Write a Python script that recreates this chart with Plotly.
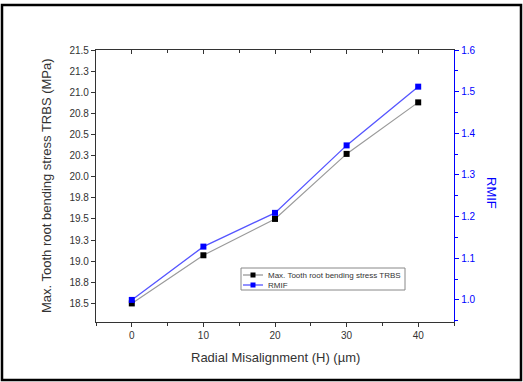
import plotly.graph_objects as go

misalignment = [0, 10, 20, 30, 40]
trbs = [18.5, 19.07, 19.5, 20.27, 20.88]
rmif = [1.0, 1.128, 1.209, 1.371, 1.512]

left_tickvals = [18.5, 18.75, 19.0, 19.25, 19.5, 19.75, 20.0, 20.25, 20.5, 20.75, 21.0, 21.25, 21.5]
left_ticktext = ["18.5", "18.8", "19.0", "19.3", "19.5", "19.8", "20.0", "20.3", "20.5", "20.8", "21.0", "21.3", "21.5"]
right_tickvals = [1.0, 1.1, 1.2, 1.3, 1.4, 1.5, 1.6]
right_ticktext = ["1.0", "1.1", "1.2", "1.3", "1.4", "1.5", "1.6"]
x_tickvals = [0, 10, 20, 30, 40]
legend_names = ["Max. Tooth root bending stress TRBS", "RMIF"]

FONT = "Liberation Sans, Arial, sans-serif"
BLUE = "#0000ff"
TRBS_LINE = "#9a9a9a"
RMIF_LINE = "#5555ff"

# plot area in pixels
L, R, T, B = 96, 454, 50, 322
PW, PH = R - L, B - T


def px(x):
    return (x - L) / PW


def py(y):
    return (B - y) / PH


fig = go.Figure()
fig.add_trace(go.Scatter(
    x=misalignment, y=trbs, mode="lines+markers", name=legend_names[0],
    line=dict(color=TRBS_LINE, width=1.2),
    marker=dict(symbol="square", size=6, color="#000000"),
    xaxis="x", yaxis="y", showlegend=False,
))
fig.add_trace(go.Scatter(
    x=misalignment, y=rmif, mode="lines+markers", name=legend_names[1],
    line=dict(color=RMIF_LINE, width=1.3),
    marker=dict(symbol="square", size=6, color=BLUE),
    xaxis="x", yaxis="y2", showlegend=False,
))
fig.add_trace(go.Scatter(x=[None], y=[None], xaxis="x2", yaxis="y",
                         showlegend=False, hoverinfo="skip"))

fig.update_layout(
    width=523, height=382,
    margin=dict(l=L, r=523 - R, t=T, b=382 - B),
    paper_bgcolor="white", plot_bgcolor="white",
    font=dict(family=FONT, size=10, color="#333333"),
    showlegend=False,
    xaxis=dict(
        range=[-5, 45], tickvals=x_tickvals, ticks="outside", ticklen=4,
        tickcolor="#333333", showline=True, linecolor="#333333", linewidth=1.3,
        showgrid=False, zeroline=False,
        minor=dict(dtick=5, tick0=0, ticks="outside", ticklen=3, tickcolor="#333333"),
        tickfont=dict(size=10, color="#333333"),
    ),
    xaxis2=dict(
        range=[-5, 45], overlaying="x", side="top", matches="x",
        tickvals=x_tickvals, ticks="inside", ticklen=4, tickcolor="#333333",
        showticklabels=False, showline=True, linecolor="#333333", linewidth=1.3,
        showgrid=False, zeroline=False,
        minor=dict(dtick=5, tick0=0, ticks="inside", ticklen=3, tickcolor="#333333"),
    ),
    yaxis=dict(
        range=[18.28, 21.5], tickvals=left_tickvals, ticktext=left_ticktext,
        ticks="outside", ticklen=4, tickcolor="#333333",
        showline=True, linecolor="#333333", linewidth=1.3,
        showgrid=False, zeroline=False,
        tickfont=dict(size=10, color="#333333"),
    ),
    yaxis2=dict(
        range=[0.947, 1.6], overlaying="y", side="right",
        tickvals=right_tickvals, ticktext=right_ticktext,
        ticks="outside", ticklen=4, tickcolor=BLUE,
        showline=True, linecolor=BLUE, linewidth=1.3,
        showgrid=False, zeroline=False,
        minor=dict(dtick=0.05, tick0=0, ticks="outside", ticklen=3, tickcolor=BLUE),
        tickfont=dict(size=10, color=BLUE),
    ),
)

# axis titles
fig.add_annotation(
    text="Max. Tooth root bending stress TRBS (MPa)", textangle=-90,
    xref="paper", yref="paper", x=px(46), y=0.5, xanchor="center", yanchor="middle",
    showarrow=False, font=dict(size=13, color="#333333", family=FONT),
)
fig.add_annotation(
    text="RMIF", textangle=90,
    xref="paper", yref="paper", x=px(492), y=py(193),
    xanchor="center", yanchor="middle",
    showarrow=False, font=dict(size=13, color=BLUE, family=FONT),
)
fig.add_annotation(
    text="Radial Misalignment (H) (µm)",
    xref="paper", yref="paper", x=px(275), y=py(357),
    xanchor="center", yanchor="middle",
    showarrow=False, font=dict(size=13, color="#333333", family=FONT),
)

# legend (drawn manually for compact rows)
fig.add_shape(type="rect", xref="paper", yref="paper",
              x0=px(241), x1=px(405), y0=py(290), y1=py(268),
              line=dict(color="#888888", width=1), fillcolor="white", layer="above")
rows = [(275, TRBS_LINE, "#000000"), (285, RMIF_LINE, BLUE)]
for (ry, lc, mc), name in zip(rows, legend_names):
    fig.add_shape(type="line", xref="paper", yref="paper",
                  x0=px(243), x1=px(263), y0=py(ry), y1=py(ry),
                  line=dict(color=lc, width=1.3), layer="above")
    fig.add_shape(type="rect", xref="paper", yref="paper",
                  x0=px(250.5), x1=px(255.5), y0=py(ry + 2.5), y1=py(ry - 2.5),
                  line=dict(color=mc, width=0), fillcolor=mc, layer="above")
    fig.add_annotation(text=name, xref="paper", yref="paper",
                       x=px(266), y=py(ry), xanchor="left", yanchor="middle",
                       showarrow=False, font=dict(size=8, color="#333333", family=FONT))

# outer frame
fig.add_shape(
    type="rect", xref="paper", yref="paper",
    x0=px(2), x1=px(521), y0=py(380), y1=py(5),
    line=dict(color="#000000", width=2.5), fillcolor="rgba(0,0,0,0)", layer="above",
)

fig.write_html(
    "out.html",
    config={"displayModeBar": False},
    post_script="document.body.style.margin='0';document.body.style.overflow='hidden';",
)
